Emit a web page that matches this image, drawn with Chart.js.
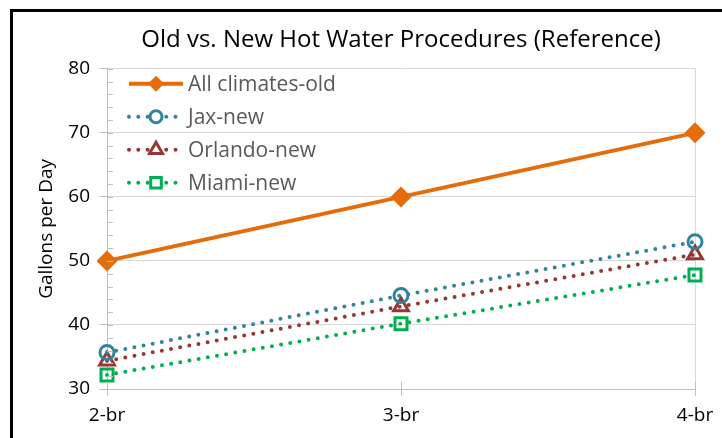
<!DOCTYPE html>
<html>
<head>
<meta charset="utf-8">
<script src="https://cdn.jsdelivr.net/npm/chart.js@4"></script>
<style>
  html, body { margin: 0; padding: 0; background: #fff; }
  #wrap { position: relative; width: 722px; height: 438px; overflow: hidden; }
  #frame { position: absolute; left: 10px; top: 9px; width: 800px; height: 500px;
           border-left: 3px solid #000; border-top: 3px solid #000; }
  canvas { position: absolute; left: 0; top: 0; }
</style>
</head>
<body>
<div id="wrap">
  <div id="frame"></div>
  <canvas id="chart" width="722" height="438"></canvas>
</div>
<script>
// ---------------------- DATOS ----------------------
const categories = ["2-br", "3-br", "4-br"];
const seriesNames = ["All climates-old", "Jax-new", "Orlando-new", "Miami-new"];
const oldValues = [50, 60, 70];
const jaxValues = [35.7, 44.6, 53.0];
const orlandoValues = [34.4, 42.9, 51.0];
const miamiValues = [32.2, 40.2, 47.8];
const yTicks = [30, 40, 50, 60, 70, 80];

const FONT = "'Open Sans', 'Noto Sans', sans-serif";
const axisGray = "#bfbfbf";
const gridGray = "#d9d9d9";
const textGray = "#595959";

// ---------------------- ESTILOS DE SERIES ----------------------
function dotted(color, shape, radius) {
  return {
    borderColor: color,
    borderWidth: 4,
    borderDash: [0, 9.3],
    borderCapStyle: "round",
    pointStyle: shape,
    pointRadius: radius,
    pointHoverRadius: radius,
    pointBorderWidth: 3,
    pointBorderColor: color,
    pointBackgroundColor: "rgba(0,0,0,0)",
    fill: false,
    tension: 0,
  };
}

const datasets = [
  {
    label: seriesNames[0],
    data: oldValues,
    borderColor: "#E46C0A",
    borderWidth: 4,
    pointStyle: "rectRot",
    pointRadius: 10.5,
    pointHoverRadius: 10.5,
    pointBorderWidth: 0,
    pointBackgroundColor: "#E46C0A",
    fill: false,
    tension: 0,
  },
  { label: seriesNames[1], data: jaxValues, ...dotted("#31849B", "circle", 7) },
  { label: seriesNames[2], data: orlandoValues, ...dotted("#953735", "triangle", 8.5) },
  { label: seriesNames[3], data: miamiValues, ...dotted("#00B050", "rect", 8.5) },
];

// ---- Marcas interiores del eje y leyenda dentro del área ----
const extrasPlugin = {
  id: "extras",
  afterDatasetsDraw(chart) {
    const ctx = chart.ctx;
    const area = chart.chartArea;
    const y = chart.scales.y;
    const x = chart.scales.x;

    ctx.save();
    ctx.strokeStyle = axisGray;
    ctx.lineWidth = 1;
    // menores cada 2, hacia dentro
    for (let v = 30; v <= 80; v += 2) {
      const py = Math.round(y.getPixelForValue(v)) + 0.5;
      ctx.beginPath();
      ctx.moveTo(area.left, py);
      ctx.lineTo(area.left + 6, py);
      ctx.stroke();
    }
    // cruce de las marcas del eje x
    categories.forEach((c, i) => {
      const px = Math.round(x.getPixelForValue(i)) + 0.5;
      ctx.beginPath();
      ctx.moveTo(px, area.bottom);
      ctx.lineTo(px, area.bottom - 7);
      ctx.stroke();
    });
    ctx.restore();

    // leyenda
    const rows = [15, 48, 81, 114];
    chart.data.datasets.forEach((ds, i) => {
      const cy = area.top + rows[i];
      const x0 = area.left + 22;
      const x1 = area.left + 76;
      const mx = area.left + 49;
      ctx.save();
      ctx.strokeStyle = ds.borderColor;
      ctx.lineWidth = ds.borderWidth;
      ctx.lineCap = ds.borderCapStyle || "butt";
      ctx.setLineDash(ds.borderDash || []);
      ctx.beginPath();
      ctx.moveTo(x0, cy);
      ctx.lineTo(x1, cy);
      ctx.stroke();
      ctx.setLineDash([]);
      ctx.fillStyle = ds.pointBackgroundColor;
      ctx.strokeStyle = ds.pointBorderColor || ds.borderColor;
      ctx.lineWidth = ds.pointBorderWidth;
      if (i > 0) {
        // tapar la línea bajo el marcador hueco
        ctx.fillStyle = "#fff";
      }
      Chart.helpers.drawPoint(ctx, {
        pointStyle: ds.pointStyle,
        radius: i === 0 ? 8 : ds.pointRadius - 1,
        borderWidth: ds.pointBorderWidth,
        rotation: 0,
      }, mx, cy);
      ctx.font = "21px " + FONT;
      ctx.fillStyle = textGray;
      ctx.textBaseline = "middle";
      ctx.textAlign = "left";
      ctx.fillText(ds.label, area.left + 81, cy + 1);
      ctx.restore();
    });
  },
};

// ---------------------- GRAFICO ----------------------
new Chart(document.getElementById("chart"), {
  type: "line",
  data: { labels: categories, datasets: datasets },
  plugins: [extrasPlugin],
  options: {
    responsive: false,
    animation: false,
    events: [],
    layout: { padding: { left: 14, right: 27, top: 0, bottom: 0 } },
    plugins: {
      legend: { display: false },
      tooltip: { enabled: false },
      title: {
        display: true,
        fullSize: false,
        text: "Old vs. New Hot Water Procedures (Reference)",
        color: "#000",
        font: { family: FONT, size: 24, weight: "normal" },
        padding: { top: 26, bottom: 14 },
      },
    },
    scales: {
      x: {
        offset: false,
        afterFit: (s) => { s.height = 49; },
        border: { display: true, color: axisGray, width: 1 },
        grid: {
          drawOnChartArea: true,
          color: (c) => (c.index === categories.length - 1 ? gridGray : "rgba(0,0,0,0)"),
          tickColor: axisGray,
          tickLength: 7,
        },
        ticks: {
          color: "#000",
          font: { family: FONT, size: 19 },
          padding: 8,
          maxRotation: 0,
        },
      },
      y: {
        min: yTicks[0],
        max: yTicks[yTicks.length - 1],
        afterFit: (s) => { s.width = 93; },
        afterBuildTicks: (s) => { s.ticks = yTicks.map((v) => ({ value: v })); },
        border: { display: true, color: axisGray, width: 1 },
        grid: {
          color: gridGray,
          tickColor: axisGray,
          tickLength: 7,
        },
        ticks: {
          color: "#000",
          font: { family: FONT, size: 19 },
          padding: 10,
        },
        title: {
          display: true,
          text: "Gallons per Day",
          color: "#000",
          font: { family: FONT, size: 19 },
          padding: { top: 21, bottom: 0 },
        },
      },
    },
  },
});
</script>
</body>
</html>
